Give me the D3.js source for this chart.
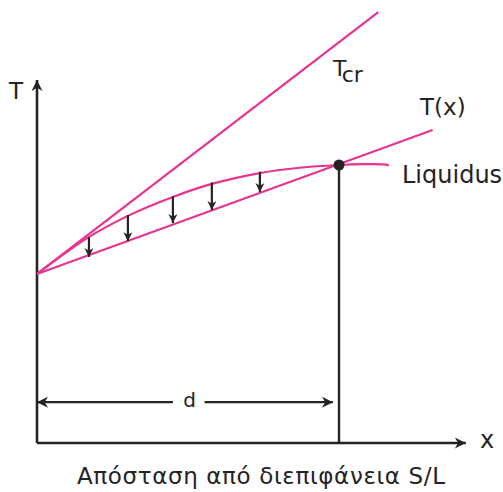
<!DOCTYPE html>
<html>
<head>
<meta charset="utf-8">
<script src="https://cdn.jsdelivr.net/npm/d3@7"></script>
<style>
  html, body { margin: 0; padding: 0; background: #fff; }
  svg { display: block; font-family: "DejaVu Sans", sans-serif; }
</style>
</head>
<body>
<svg id="chart" width="503" height="492"></svg>
<script>
// Distance from the S/L interface (d = 1) and temperature (liquidus at the tip = 100)
const tcrLine = [ { x: 0, t: 60.8 }, { x: 1.13, t: 155 } ];
const txLine = [ { x: 0, t: 60.8 }, { x: 1.31, t: 112.6 } ];
const liquidusX = [0, 0.166, 0.301, 0.45, 0.579, 0.738, 0.87, 1.0, 1.08, 1.15, 1.165];
const liquidusT = [60.8, 73.7, 81.7, 88.5, 93.2, 97.1, 99.0, 100.0, 100.3, 100.2, 99.8];
const arrowX = [0.172, 0.301, 0.45, 0.579, 0.738];
const arrowTop = [74.0, 82.0, 88.8, 93.7, 97.6];
const arrowBottom = [66.9, 72.6, 79.1, 83.8, 90.3];
const interfaceD = 1.0;
const tipT = 100;
const axisEndX = 1.42;
const axisEndT = 130.6;
const dimT = 14.7;

const pink = "#e8338f";
const ink = "#262324";

const svg = d3.select("#chart");
const x = d3.scaleLinear().domain([0, 1]).range([37, 339]);
const y = d3.scaleLinear().domain([0, 100]).range([443, 165]);

const defs = svg.append("defs");
function marker(id, w, h) {
  defs.append("marker")
    .attr("id", id)
    .attr("viewBox", "0 0 10 10")
    .attr("refX", 10).attr("refY", 5)
    .attr("markerWidth", w).attr("markerHeight", h)
    .attr("markerUnits", "userSpaceOnUse")
    .attr("orient", "auto-start-reverse")
    .append("path")
    .attr("d", "M0,0 L10,5 L0,10 L3,5 Z")
    .attr("fill", ink);
}
marker("axisHead", 15, 11);
marker("smallHead", 11, 9);
marker("dimHead", 17, 11);

// Axes
svg.append("line")
  .attr("x1", x(0)).attr("y1", y(0))
  .attr("x2", x(axisEndX)).attr("y2", y(0))
  .attr("stroke", ink).attr("stroke-width", 2.6)
  .attr("marker-end", "url(#axisHead)");
svg.append("line")
  .attr("x1", x(0)).attr("y1", y(0))
  .attr("x2", x(0)).attr("y2", y(axisEndT))
  .attr("stroke", ink).attr("stroke-width", 2.6)
  .attr("marker-end", "url(#axisHead)");

// Vertical line at the interface position
svg.append("line")
  .attr("x1", x(interfaceD)).attr("y1", y(tipT))
  .attr("x2", x(interfaceD)).attr("y2", y(0))
  .attr("stroke", ink).attr("stroke-width", 2.4);

// Dimension d
svg.append("line")
  .attr("x1", x(0.45)).attr("y1", y(dimT))
  .attr("x2", x(0)).attr("y2", y(dimT))
  .attr("stroke", ink).attr("stroke-width", 2.2)
  .attr("marker-end", "url(#dimHead)");
svg.append("line")
  .attr("x1", x(0.555)).attr("y1", y(dimT))
  .attr("x2", x(0.98)).attr("y2", y(dimT))
  .attr("stroke", ink).attr("stroke-width", 2.2)
  .attr("marker-end", "url(#dimHead)");

// Pink curves
const lineGen = d3.line().x(d => x(d.x)).y(d => y(d.t));
svg.append("path").datum(tcrLine).attr("d", lineGen)
  .attr("fill", "none").attr("stroke", pink).attr("stroke-width", 2.2);
svg.append("path").datum(txLine).attr("d", lineGen)
  .attr("fill", "none").attr("stroke", pink).attr("stroke-width", 2.2);
const liquidus = liquidusX.map((v, i) => ({ x: v, t: liquidusT[i] }));
svg.append("path").datum(liquidus)
  .attr("d", d3.line().x(d => x(d.x)).y(d => y(d.t)).curve(d3.curveCatmullRom))
  .attr("fill", "none").attr("stroke", pink).attr("stroke-width", 2.2);

// Downward arrows between liquidus and T(x)
svg.selectAll("line.drop").data(arrowX).join("line")
  .attr("class", "drop")
  .attr("x1", d => x(d)).attr("x2", d => x(d))
  .attr("y1", (d, i) => y(arrowTop[i]))
  .attr("y2", (d, i) => y(arrowBottom[i]))
  .attr("stroke", ink).attr("stroke-width", 2.2)
  .attr("marker-end", "url(#smallHead)");

// Tip point on the liquidus
svg.append("circle")
  .attr("cx", x(interfaceD)).attr("cy", y(tipT)).attr("r", 5.5)
  .attr("fill", ink);

// Labels
const txt = (s, px, py, size, anchor) => svg.append("text")
  .attr("x", px).attr("y", py)
  .attr("font-size", size).attr("fill", ink)
  .attr("text-anchor", anchor || "start")
  .text(s);

txt("T", 9, 99, 23);
txt("x", 480, 448, 24);
txt("d", 189.5, 407, 20, "middle");
txt("T(x)", 420, 115, 23);
txt("Liquidus", 402, 183, 24);
const tcr = svg.append("text").attr("x", 333).attr("y", 76)
  .attr("font-size", 22).attr("fill", ink);
tcr.append("tspan").text("T");
tcr.append("tspan").attr("dy", 6).attr("dx", -1).text("cr");
txt("Απόσταση από διεπιφάνεια S/L", 77, 484, 23)
  .attr("textLength", 368).attr("lengthAdjust", "spacing");
</script>
</body>
</html>
